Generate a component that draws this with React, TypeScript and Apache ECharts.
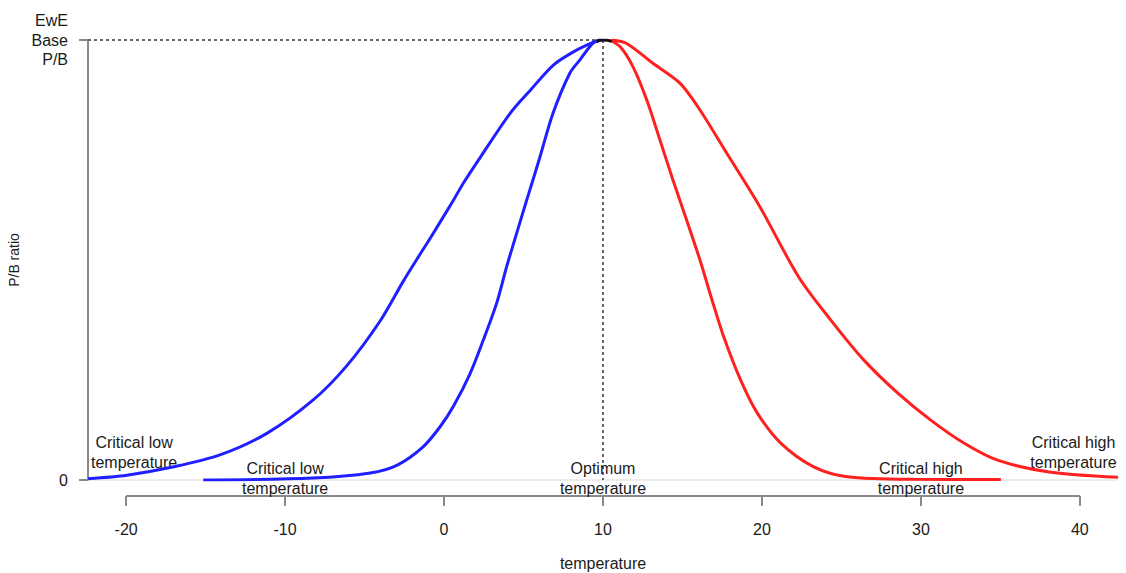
import React, { useEffect, useRef } from "react";
import * as echarts from "echarts";

// ---- data (temperature, relative P/B) ----
const blueWide: [number, number][] = [
  [-22.4, 0.003], [-19.95, 0.011], [-17.0, 0.03], [-14.1, 0.057], [-11.15, 0.106],
  [-8.23, 0.182], [-6.11, 0.26], [-4.01, 0.362], [-2.56, 0.452], [-1.51, 0.513],
  [-0.86, 0.55], [0.59, 0.636], [1.22, 0.675], [2.29, 0.734], [4.17, 0.834],
  [5.43, 0.886], [6.88, 0.943], [8.14, 0.973], [9.4, 0.995], [9.85, 1.0],
];
const blueNarrow: [number, number][] = [
  [-15.15, 0.0], [-8.23, 0.0045], [-4.64, 0.016], [-2.94, 0.034], [-1.3, 0.076],
  [-0.25, 0.121], [0.58, 0.167], [1.64, 0.242], [2.47, 0.318], [3.31, 0.402],
  [3.94, 0.485], [4.57, 0.561], [5.2, 0.636], [6.0, 0.73], [6.86, 0.834],
  [7.92, 0.925], [8.55, 0.955], [9.37, 0.993], [9.85, 1.0],
];
const redNarrow: [number, number][] = [
  [10.4, 1.0], [11.07, 0.985], [11.89, 0.939], [12.75, 0.864], [13.58, 0.773],
  [14.4, 0.682], [15.26, 0.591], [16.1, 0.5], [16.92, 0.402], [17.6, 0.325],
  [18.66, 0.227], [19.71, 0.152], [21.18, 0.084], [23.26, 0.03], [25.38, 0.0075],
  [29.55, 0.0015], [35.03, 0.001],
];
const redWide: [number, number][] = [
  [10.55, 1.0], [11.49, 0.992], [13.14, 0.947], [14.84, 0.902], [16.1, 0.841],
  [17.78, 0.743], [19.87, 0.621], [22.3, 0.462], [24.32, 0.364], [26.4, 0.273],
  [28.53, 0.198], [30.62, 0.136], [32.7, 0.084], [34.82, 0.045], [37.97, 0.019],
  [42.4, 0.006],
];
const peakSegment: [number, number][] = [[9.6, 0.997], [10.0, 1.0], [10.55, 0.997]];

const X_MIN = -22.4;
const X_MAX = 42.4;
const OPTIMUM = 10;
const BASE_PB = 1;
const xTicks = [-20, -10, 0, 10, 20, 30, 40];
const yTicks = [0, 1];
const yTickLabels = ["0", "EwE\nBase\nP/B"];

const annotationTexts = [
  "Critical low\ntemperature",
  "Critical low\ntemperature",
  "Optimum\ntemperature",
  "Critical high\ntemperature",
  "Critical high\ntemperature",
];
const annotationX = [-19.5, -10, 10, 30, 39.6];
const annotationY = [0.0625, 0.0034, 0.0034, 0.0034, 0.0625];

const FONT = "'Liberation Sans', Arial, Helvetica, sans-serif";
const AXIS_GRAY = "#8a8a8a";
const TEXT = "#1a1a1a";
const GRID_TOP = 40;
const GRID_BOTTOM = 93;
const X_AXIS_OFFSET = 16;

export default function App() {
  const ref = useRef<HTMLDivElement>(null);

  useEffect(() => {
    if (!ref.current) return;
    const chart = echarts.init(ref.current, undefined, { renderer: "svg" });
    const plotH = 573 - GRID_TOP - GRID_BOTTOM;
    const axisLineY = -X_AXIS_OFFSET / plotH;

    const curve = (name: string, data: [number, number][], color: string) => ({
      name,
      type: "line",
      data,
      symbol: "none",
      smooth: 0.3,
      lineStyle: { color, width: 3 },
      z: 5,
    });

    chart.setOption({
      animation: false,
      backgroundColor: "#fff",
      textStyle: { fontFamily: FONT },
      grid: {
        left: 88,
        right: 8,
        top: GRID_TOP,
        bottom: GRID_BOTTOM,
        containLabel: false,
        outerBoundsMode: "none",
      },
      xAxis: {
        type: "value",
        min: X_MIN,
        max: X_MAX,
        offset: X_AXIS_OFFSET,
        axisLine: { show: false, onZero: false },
        splitLine: { show: false },
        axisTick: {
          show: true,
          customValues: xTicks,
          length: 10,
          lineStyle: { color: AXIS_GRAY, width: 2 },
        },
        axisLabel: {
          customValues: xTicks,
          margin: 25,
          fontSize: 16,
          color: TEXT,
          fontFamily: FONT,
        },
        name: "temperature",
        nameLocation: "middle",
        nameGap: 59,
        nameTextStyle: { fontSize: 16, color: TEXT, fontFamily: FONT },
      },
      yAxis: {
        type: "value",
        min: 0,
        max: 1,
        axisLine: { show: true, onZero: false, lineStyle: { color: AXIS_GRAY, width: 2 } },
        splitLine: { show: false },
        axisTick: {
          show: true,
          customValues: yTicks,
          length: 9,
          lineStyle: { color: AXIS_GRAY, width: 2 },
        },
        axisLabel: {
          customValues: yTicks,
          margin: 20,
          fontSize: 16,
          lineHeight: 19.5,
          color: TEXT,
          fontFamily: FONT,
          align: "right",
          verticalAlign: "middle",
          formatter: (v: number) => yTickLabels[yTicks.indexOf(v)] ?? "",
        },
        name: "P/B ratio",
        nameLocation: "middle",
        nameRotate: 90,
        nameGap: 62,
        nameTextStyle: { fontSize: 14, color: TEXT, fontFamily: FONT },
      },
      series: [
        {
          name: "baseline",
          type: "line",
          data: [[X_MIN, 0], [X_MAX, 0]],
          symbol: "none",
          lineStyle: { color: "#ececec", width: 2 },
          silent: true,
          z: 1,
        },
        {
          name: "xaxisline",
          type: "line",
          data: [[xTicks[0], axisLineY], [xTicks[xTicks.length - 1], axisLineY]],
          symbol: "none",
          clip: false,
          lineStyle: { color: AXIS_GRAY, width: 2 },
          silent: true,
          z: 1,
        },
        {
          name: "baseH",
          type: "line",
          data: [[X_MIN, BASE_PB], [OPTIMUM, BASE_PB]],
          symbol: "none",
          lineStyle: { color: "#666", width: 2, type: [3, 3] },
          silent: true,
          z: 2,
        },
        {
          name: "optV",
          type: "line",
          data: [[OPTIMUM, BASE_PB], [OPTIMUM, 0]],
          symbol: "none",
          lineStyle: { color: "#666", width: 2, type: [3, 3] },
          silent: true,
          z: 2,
        },
        curve("blueWide", blueWide, "#1f1fff"),
        curve("blueNarrow", blueNarrow, "#1f1fff"),
        curve("redWide", redWide, "#ff2020"),
        curve("redNarrow", redNarrow, "#ff2020"),
        {
          name: "peak",
          type: "line",
          data: peakSegment,
          symbol: "none",
          smooth: true,
          lineStyle: { color: "#111", width: 3 },
          z: 6,
        },
        {
          name: "annotations",
          type: "custom",
          data: annotationX.map((x, i) => [x, annotationY[i]]),
          clip: false,
          silent: true,
          z: 4,
          renderItem: (params: any, api: any) => {
            const pt = api.coord([api.value(0), api.value(1)]);
            return {
              type: "text",
              x: pt[0],
              y: pt[1],
              style: {
                text: annotationTexts[params.dataIndex],
                fill: TEXT,
                font: `16px ${FONT}`,
                lineHeight: 20,
                align: "center",
                verticalAlign: "middle",
              },
            };
          },
        },
      ],
    });

    return () => chart.dispose();
  }, []);

  return (
    <div
      ref={ref}
      style={{ position: "absolute", left: 0, top: 0, width: 1126, height: 573 }}
    />
  );
}
